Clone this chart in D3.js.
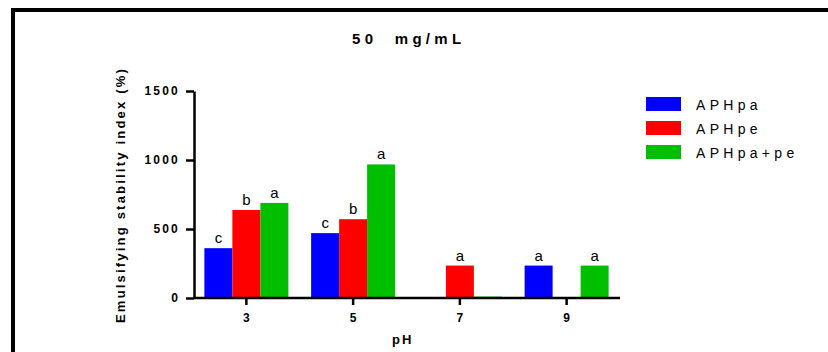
<!DOCTYPE html>
<html>
<head>
<meta charset="utf-8">
<script src="https://cdn.jsdelivr.net/npm/d3@7"></script>
<style>
  html, body { margin: 0; padding: 0; background: #fff; }
  svg { display: block; font-family: "Liberation Sans", Arial, sans-serif; }
</style>
</head>
<body>
<svg id="chart" width="828" height="352"></svg>
<script>
// pH values on the x axis
const categories = ["3", "5", "7", "9"];
// series names
const seriesNames = ["APHpa", "APHpe", "APHpa+pe"];
// emulsifying stability index (%) per series, one value per pH
const aphpa   = [361, 470, 0, 235];
const aphpe   = [638, 571, 235, 0];
const aphpape = [689, 968, 10, 235];
// significance letters per series (empty = none drawn)
const lettersPa   = ["c", "c", "", "a"];
const lettersPe   = ["b", "b", "a", ""];
const lettersPaPe = ["a", "a", "", "a"];
// y-axis ticks
const yTicks = [0, 500, 1000, 1500];

const colors = ["#0000ff", "#ff0000", "#00bf00"];
const seriesValues = [aphpa, aphpe, aphpape];
const seriesLetters = [lettersPa, lettersPe, lettersPaPe];

const svg = d3.select("#chart");

// outer frame
svg.append("rect")
  .attr("x", 13).attr("y", 10)
  .attr("width", 900).attr("height", 400)
  .attr("fill", "none").attr("stroke", "#000").attr("stroke-width", 4);

const y = d3.scaleLinear().domain([0, 1500]).range([298, 91]);
const x = d3.scaleBand().domain(categories).range([193, 620]);
const xInner = d3.scaleBand().domain(d3.range(3)).range([0, 84]);

// bars
const groups = svg.append("g").selectAll("g")
  .data(categories)
  .join("g")
  .attr("transform", d => `translate(${x(d) + x.bandwidth() / 2 - 42},0)`);

groups.each(function(cat, ci) {
  const g = d3.select(this);
  seriesValues.forEach((vals, si) => {
    const v = vals[ci];
    if (v > 0) {
      g.append("rect")
        .attr("x", xInner(si))
        .attr("y", y(v))
        .attr("width", xInner.bandwidth())
        .attr("height", y(0) - y(v))
        .attr("fill", colors[si]);
    }
    const lt = seriesLetters[si][ci];
    if (lt) {
      g.append("text")
        .attr("x", xInner(si) + xInner.bandwidth() / 2)
        .attr("y", y(v) - 5)
        .attr("text-anchor", "middle")
        .attr("font-size", 15)
        .attr("fill", "#000")
        .text(lt);
    }
  });
});

// y axis
const yAxis = svg.append("g")
  .attr("transform", "translate(194,0)")
  .call(d3.axisLeft(y).tickValues(yTicks).tickFormat(d3.format("d"))
    .tickSize(8).tickPadding(6).tickSizeOuter(0));
yAxis.select(".domain").attr("stroke", "#000").attr("stroke-width", 2.5);
yAxis.selectAll(".tick line").attr("stroke", "#000").attr("stroke-width", 2.5);
yAxis.selectAll(".tick text")
  .attr("font-size", 12).attr("font-weight", "bold")
  .attr("letter-spacing", "2.2px").attr("fill", "#000")
  .attr("font-family", "Liberation Sans, Arial, sans-serif");

// x axis
const xAxis = svg.append("g")
  .attr("transform", "translate(0,298)")
  .call(d3.axisBottom(x).tickSize(7).tickPadding(8).tickSizeOuter(0));
xAxis.select(".domain").attr("d", "M194,0H620").attr("stroke", "#000").attr("stroke-width", 2.5);
xAxis.selectAll(".tick line").attr("stroke", "#000").attr("stroke-width", 2.5);
xAxis.selectAll(".tick text")
  .attr("font-size", 12).attr("font-weight", "bold").attr("fill", "#000")
  .attr("font-family", "Liberation Sans, Arial, sans-serif");

// title
svg.append("text")
  .attr("x", 352).attr("y", 44)
  .attr("font-size", 15).attr("font-weight", "bold")
  .attr("letter-spacing", "4.3px").attr("word-spacing", "9px")
  .text("50 mg/mL");

// axis titles
svg.append("text")
  .attr("transform", "translate(125,195) rotate(-90)")
  .attr("text-anchor", "middle")
  .attr("font-size", 13).attr("font-weight", "bold")
  .attr("letter-spacing", "2.2px")
  .text("Emulsifying stability index (%)");

svg.append("text")
  .attr("x", 392).attr("y", 344)
  .attr("font-size", 13).attr("font-weight", "bold")
  .attr("letter-spacing", "2px")
  .text("pH");

// legend
const legend = svg.append("g").selectAll("g")
  .data(seriesNames)
  .join("g")
  .attr("transform", (d, i) => `translate(646,${97 + i * 24})`);
legend.append("rect")
  .attr("width", 35).attr("height", 14)
  .attr("fill", (d, i) => colors[i]);
legend.append("text")
  .attr("x", 50).attr("y", 12.5)
  .attr("font-size", 14)
  .attr("letter-spacing", "4.3px")
  .text(d => d);
</script>
</body>
</html>
